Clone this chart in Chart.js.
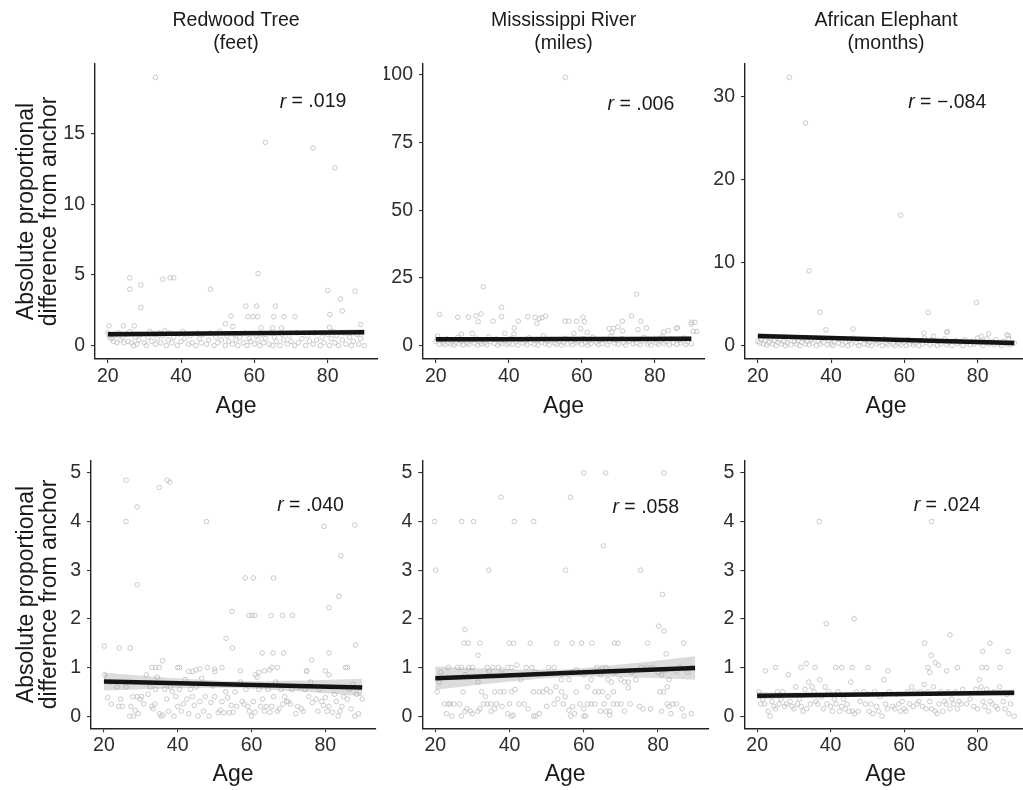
<!DOCTYPE html>
<html><head><meta charset="utf-8">
<script src="https://cdn.jsdelivr.net/npm/chart.js@4.4.1/dist/chart.umd.min.js"></script>
<style>
html,body{margin:0;padding:0;background:#fff;overflow:hidden;width:1023px;height:790px;position:relative}
canvas{position:absolute}
</style></head><body>
<script>
// ---------- text ----------
const panelTitles = [['Redwood Tree','(feet)'], ['Mississippi River','(miles)'], ['African Elephant','(months)']];
const yTitleLines = ['Absolute proportional', 'difference from anchor'];
const xTitle = 'Age';
const rValues = ['.019', '.006', '\u2212.084', '.040', '.058', '.024'];

// ---------- tick labels ----------
const xTicks = [20, 40, 60, 80];
const yTicksRedwoodTop = [0, 5, 10, 15];
const yTicksRiverTop = [0, 25, 50, 75, 100];
const yTicksElephantTop = [0, 10, 20, 30];
const yTicksBottom = [0, 1, 2, 3, 4, 5];

// ---------- regression fits (age, fit, lower, upper) ----------
const fitAges = [20, 37.5, 55, 72.5, 90];
const fitRedwoodTop = [0.80, 0.84, 0.875, 0.91, 0.95];
const loRedwoodTop = [0.58, 0.70, 0.775, 0.77, 0.73];
const hiRedwoodTop = [1.02, 0.98, 0.975, 1.05, 1.17];
const fitRiverTop = [2.3, 2.35, 2.4, 2.45, 2.5];
const loRiverTop = [1.3, 1.7, 1.9, 1.8, 1.5];
const hiRiverTop = [3.3, 3.0, 2.9, 3.1, 3.5];
const fitElephantTop = [1.15, 0.94, 0.725, 0.51, 0.3];
const loElephantTop = [0.8, 0.72, 0.555, 0.29, -0.05];
const hiElephantTop = [1.5, 1.16, 0.895, 0.73, 0.65];
const fitRedwoodBottom = [0.71, 0.68, 0.65, 0.62, 0.59];
const loRedwoodBottom = [0.53, 0.57, 0.58, 0.51, 0.41];
const hiRedwoodBottom = [0.89, 0.79, 0.72, 0.73, 0.77];
const fitRiverBottom = [0.78, 0.83, 0.885, 0.94, 0.99];
const loRiverBottom = [0.54, 0.69, 0.805, 0.80, 0.75];
const hiRiverBottom = [1.02, 0.97, 0.965, 1.08, 1.23];
const fitElephantBottom = [0.42, 0.435, 0.45, 0.465, 0.48];
const loElephantBottom = [0.35, 0.39, 0.415, 0.42, 0.41];
const hiElephantBottom = [0.49, 0.48, 0.485, 0.51, 0.55];

// ---------- observations [age, value] ----------
const redwoodTop = [
[33,19.0],[63,14.4],[76,14.0],[82,12.6],[61,5.1],[26,4.8],[26,4.0],[29,4.3],[35,4.7],[37,4.8],[38,4.8],[29,2.7],[48,4.0],[80,3.9],[83.5,3.3],[87.5,3.85],[84,2.45],[80.6,2.2],[80.5,1.3],[57.7,2.8],[60.6,2.8],[65.7,2.8],[58.3,2.05],[59.6,2.05],[60.9,2.05],[65.3,2.05],[68.1,2.05],[71.1,2.05],[53.6,2.1],[52.1,1.55],[54.1,1.35],[61.8,1.25],[65,1.25],[67.4,1.25],[20.3,1.4],[24.2,1.4],[27.2,1.4],[35.5,1.05],[89,1.5],
[20,0.9],[20.5,0.6],[21,0.5],[21.5,0.3],[22,0.7],[22.5,0.2],[23,0.9],[23.5,0.4],[24,0.6],[24.5,0.2],[25,0.8],[25.5,0.3],[26,1.0],[26.5,0.2],[27,0.0],[27.5,0.6],[28,0.1],[28.5,0.4],[29,0.8],[30,0.2],[30.5,0.0],[31,0.6],[31.5,1.0],[32,0.3],[32.5,0.8],[33,0.1],[33.5,0.5],[34,0.9],[34.5,0.2],[35,0.7],[36,0.0],[36.5,0.4],[37,0.9],[37.5,0.2],[38,0.6],[39,0.0],[39.5,0.8],[40,0.3],[40.5,1.0],[41,0.5],[42,0.1],[42.5,0.7],[43,0.2],[44,0.0],[44.5,0.9],[45,0.5],[45.5,0.2],[46,0.8],[47,0.1],[47.5,0.4],[48,0.9],[49,0.0],[49.5,0.6],[50,0.2],[50.5,1.0],[51,0.4],[52,0.0],[52.5,0.7],[53,0.3],[54,0.1],[54.5,0.8],[55,0.4],[55.5,0.0],[56,0.6],[57,0.2],[57.5,0.9],[58,0.0],[58.5,0.5],[59,0.3],[60,0.1],[60.5,0.7],[61,0.4],[61.5,0.0],[62,0.8],[62.5,0.2],[63,0.5],[64,0.1],[64.5,0.9],[65,0.0],[65.5,0.6],[66,0.3],[67,0.0],[67.5,0.8],[68,0.4],[69,0.1],[69.5,0.7],[70,0.3],[71,0.0],[71.5,0.9],[72,0.2],[73,0.5],[74,0.0],[74.5,0.7],[75,0.3],[76,0.1],[76.5,0.9],[77,0.4],[78,0.0],[78.5,0.6],[79,0.2],[80,0.8],[80.5,0.0],[81,0.5],[81.5,1.0],[82,0.2],[82.5,0.7],[83,0.0],[84,0.4],[84.5,0.9],[85,0.1],[86,0.6],[86.5,0.0],[87,0.3],[88,0.8],[88.5,0.1],[89,0.5],[90,0.0]
];
const riverTop = [
[55.5,99],[33,21.7],[75,19],[21,11.5],[26,10.5],[29,10.5],[31,11],[32.4,11.7],[31.6,8.8],[38,14.1],[38,10.7],[35.7,9.0],[42.6,9.0],[45.2,10.7],[47.2,10.4],[48.4,10],[49.1,10.3],[50.1,10.9],[47.7,8.2],[38.9,4.5],[41.5,6.5],[41.4,4.3],[55.4,9],[56.4,9],[58.6,9],[60.3,10.5],[60.7,8.8],[59.7,6.3],[57.8,4.5],[61.5,4.9],[67.5,6.3],[68.7,6.3],[69.9,6.9],[68.3,5.0],[71.1,9],[73.6,11],[76.2,9],[75.4,5.9],[77.7,6.5],[71.2,5.4],[82.4,5.0],[83.7,5.6],[85.9,6.3],[86.2,6.6],[90,8.6],[91,8.6],[90,7.9],[90.5,5.2],[91.5,5.2],[27,4.3],[30,4.5],
[20,1.5],[20.5,3.5],[21,0.5],[21.5,2.0],[22,1.0],[22.5,0.3],[23,2.5],[23.5,1.2],[24,0.6],[24.5,1.8],[25,0.2],[25.5,1.0],[26,3.0],[26.5,0.7],[27,1.6],[27.5,0.3],[28,2.2],[28.5,1.0],[29,0.4],[30,1.8],[30.5,0.9],[31,2.8],[31.5,0.2],[32,1.3],[32.5,0.6],[33,2.0],[33.5,1.1],[34,0.3],[34.5,3.2],[35,1.5],[36,0.8],[36.5,2.4],[37,0.2],[37.5,1.2],[38,0.7],[39,1.9],[39.5,0.4],[40,1.0],[40.5,2.6],[41,0.5],[42,1.4],[42.5,0.2],[43,2.1],[44,0.9],[44.5,1.6],[45,0.3],[45.5,2.9],[46,1.1],[47,0.5],[47.5,1.8],[48,0.2],[49,1.3],[49.5,3.6],[50,0.7],[50.5,1.5],[51,0.3],[52,2.2],[52.5,1.0],[53,0.5],[54,1.7],[54.5,0.2],[55,1.2],[55.5,2.7],[56,0.6],[57,1.4],[57.5,0.3],[58,2.0],[58.5,0.9],[59,1.6],[60,0.4],[60.5,2.5],[61,1.0],[61.5,0.2],[62,1.8],[62.5,0.7],[63,3.1],[64,1.2],[64.5,0.4],[65,1.9],[65.5,0.8],[66,2.3],[67,0.3],[67.5,1.5],[68,3.4],[69,0.9],[69.5,1.8],[70,0.5],[71,2.6],[71.5,1.1],[72,0.2],[73,1.6],[74,0.7],[74.5,2.0],[75,1.0],[76,0.3],[76.5,1.7],[77,3.0],[78,0.6],[78.5,1.3],[79,0.2],[80,2.2],[80.5,1.0],[81,0.4],[81.5,1.8],[82,3.3],[82.5,0.8],[83,1.5],[84,0.3],[84.5,2.4],[85,1.1],[86,0.5],[86.5,1.9],[87,0.9],[88,2.8],[88.5,0.4],[89,1.4],[90,0.7]
];
const elephantTop = [
[28.6,32.3],[33,26.8],[34,9],[59,15.7],[37,4.0],[38.6,1.9],[46,2.0],[66.5,4.0],[79.7,5.2],[65.3,1.5],[71.5,1.6],[83,1.4],[88,1.3],[71.8,1.7],[88.4,1.2],[81,1.1],[68,1.1],
[20,0.5],[20.5,0.3],[21,0.8],[21.5,0.2],[22,0.6],[22.5,0.1],[23,0.4],[23.5,0.9],[24,0.2],[24.5,0.6],[25,0.0],[25.5,0.4],[26,0.7],[26.5,0.2],[27,0.5],[27.5,0.0],[28,0.3],[28.5,0.8],[29,0.1],[30,0.5],[30.5,0.2],[31,0.6],[31.5,0.0],[32,0.4],[32.5,0.9],[33,0.2],[33.5,0.5],[34,0.1],[34.5,0.7],[35,0.3],[36,0.0],[36.5,0.5],[37,0.2],[37.5,0.8],[38,0.4],[39,0.1],[39.5,0.6],[40,0.2],[40.5,0.0],[41,0.5],[42,0.3],[42.5,0.8],[43,0.1],[44,0.4],[44.5,0.0],[45,0.6],[45.5,0.2],[46,0.9],[47,0.3],[47.5,0.0],[48,0.5],[49,0.2],[49.5,0.7],[50,0.1],[50.5,0.4],[51,0.0],[52,0.6],[52.5,0.2],[53,0.4],[54,0.0],[54.5,0.8],[55,0.3],[55.5,0.1],[56,0.5],[57,0.2],[57.5,0.0],[58,0.6],[58.5,0.3],[59,0.1],[60,0.4],[60.5,0.0],[61,0.7],[61.5,0.2],[62,0.5],[62.5,0.1],[63,0.3],[64,0.0],[64.5,0.6],[65,0.2],[65.5,0.9],[66,0.4],[67,0.1],[67.5,0.7],[68,0.3],[69,0.0],[69.5,0.5],[70,0.2],[71,0.8],[71.5,0.1],[72,0.4],[73,0.0],[74,0.6],[74.5,0.2],[75,0.4],[76,0.0],[76.5,0.7],[77,0.3],[78,0.1],[78.5,0.5],[79,0.2],[80,0.9],[80.5,0.3],[81,0.6],[81.5,0.0],[82,0.4],[82.5,0.8],[83,0.2],[84,0.5],[84.5,0.1],[85,0.7],[86,0.3],[86.5,0.0],[87,0.5],[88,0.2],[88.5,0.8],[89,0.1],[90,0.3]
];
const redwoodBottom = [
[26,4.85],[26,4.0],[29,4.3],[29,2.7],[35,4.7],[37.2,4.85],[37.9,4.81],[47.8,4.0],[79.7,3.9],[88,3.93],[84.2,3.3],[83.7,2.46],[81,2.23],[58.3,2.84],[60.5,2.84],[66,2.84],[59.3,2.07],[60.1,2.07],[60.9,2.07],[65.3,2.07],[68.4,2.07],[71.1,2.07],[54.7,2.15],[53.1,1.6],[54.8,1.4],[62.9,1.3],[65.8,1.3],[68.7,1.3],[76.3,1.15],[81,1.3],[20.1,1.44],[24.2,1.4],[27.1,1.4],[35.9,1.14],[88.2,1.46],[85.5,1.0],[50.1,0.92],[74.9,0.92],
[33,1.0],[34,1.0],[35,1.0],[40,1.0],[40.5,1.0],[43,0.92],[44,0.92],[45,0.95],[46,0.97],[48,1.0],[50,0.97],[52,1.0],[57,0.93],[61,0.85],[62,0.9],[63.5,0.93],[65,0.95],[65.5,1.0],[67,1.0],[75,0.93],[80,0.93],[81,0.85],[86,1.0],
[20.2,0.85],[21,0.38],[21.5,0.7],[22,0.25],[23.5,0.6],[24,0.2],[24.5,0.35],[25,0.2],[26,0.6],[27,0.0],[27.3,0.2],[27.8,0.4],[28,0.0],[28.5,0.12],[29,0.4],[29.3,0.05],[29.8,0.35],[30.2,0.4],[30.8,0.25],[31.5,0.85],[32,0.45],[32.5,0.6],[33,0.2],[33.3,0.15],[33.8,0.25],[34,0.55],[34.5,0.8],[35,0.05],[35.5,0.0],[36,0.02],[36.5,0.55],[37,0.35],[37.5,0.1],[38,0.6],[38.5,0.5],[39,0.0],[39.5,0.4],[40,0.2],[40.5,0.55],[41,0.1],[41.5,0.25],[42,0.75],[42.5,0.35],[43,0.05],[43.5,0.55],[44,0.4],[44.5,0.22],[45,0.6],[45.5,0.0],[46,0.3],[46.5,0.78],[47,0.1],[47.5,0.4],[48.5,0.0],[49,0.28],[49.5,0.62],[50,0.4],[51,0.07],[51.5,0.12],[52,0.3],[52.5,0.07],[53,0.5],[53.5,0.38],[54,0.07],[54.5,0.22],[55,0.08],[55.5,0.5],[56,0.2],[57,0.7],[57.5,0.3],[58,0.25],[58.5,0.55],[59,0.2],[59.5,0.1],[60,0.0],[60.5,0.3],[61,0.08],[61.5,0.8],[62,0.55],[62.5,0.2],[63,0.35],[63.5,0.1],[64,0.2],[64.5,0.55],[65,0.08],[65.5,0.2],[66,0.4],[66.5,0.7],[67,0.1],[67.5,0.15],[68,0.55],[68.5,0.25],[69,0.4],[69.5,0.3],[70,0.3],[70.5,0.25],[71,0.55],[72,0.05],[72.5,0.2],[73,0.6],[73.5,0.15],[74,0.1],[74.5,0.55],[75.5,0.4],[76,0.7],[76.5,0.28],[77.5,0.35],[78,0.1],[78.5,0.55],[79,0.3],[79.5,0.22],[80,0.38],[80.5,0.1],[81,0.2],[81.5,0.6],[82,0.08],[82.5,0.45],[83,0.3],[83.5,0.0],[84,0.1],[84.5,0.2],[85,0.4],[86,0.35],[86.5,0.55],[87,0.15],[87.5,0.65],[88,0.0],[88.5,0.45],[89,0.05],[90,0.35]
];
const riverBottom = [
[19.8,4.0],[20.1,3.0],[27.1,4.0],[30.3,4.0],[37.7,4.5],[41.3,4.0],[46.5,4.0],[34.4,3.0],[60,5.0],[65.9,5.0],[81.6,5.0],[56.4,4.5],[55.1,3.0],[65.3,3.5],[75.3,3.0],[81.2,2.5],[80.2,1.85],[81.6,1.75],[28,1.78],[27.8,1.5],[28.9,1.5],[32,1.5],[39.9,1.5],[41.1,1.5],[45.6,1.5],[52.7,1.5],[56.9,1.5],[59.4,1.5],[62.2,1.5],[68.3,1.5],[69.2,1.5],[77.2,1.5],[86.9,1.5],[31.5,1.25],[82.2,1.28],
[21.5,0.9],[23.5,1.0],[26,1.0],[27,1.0],[28,0.85],[29,1.0],[30,1.0],[31.5,0.7],[34,1.0],[34.5,0.92],[35.5,1.0],[37,1.0],[38,0.95],[39.5,1.0],[40.5,1.0],[42,1.05],[43,0.75],[44.5,1.0],[46,1.0],[47,0.9],[50.5,1.0],[52,1.0],[54,0.75],[56,0.75],[57,0.9],[58,0.95],[60,0.85],[62,0.75],[63.5,1.0],[64.5,0.85],[65,1.0],[66,1.0],[66.5,0.75],[67.5,0.7],[68.5,0.9],[70,0.75],[72,0.7],[73,0.9],[74,0.75],[75.5,1.0],[77,1.0],[78.5,1.0],[80,0.9],[81,0.85],[82,0.95],[83,0.75],[85,0.92],[86,1.0],[88,0.9],[89,1.0],
[20.5,0.5],[27.5,0.5],[32.5,0.5],[33.5,0.4],[36,0.5],[37.5,0.5],[38.5,0.5],[40.5,0.5],[41.5,0.55],[46.5,0.5],[48,0.5],[49,0.5],[50,0.55],[51,0.5],[52.5,0.6],[54,0.5],[55,0.4],[58,0.5],[61,0.6],[63,0.5],[64,0.5],[65,0.5],[66.5,0.4],[68,0.5],[71,0.7],[72,0.58],[80.5,0.5],[81.5,0.5],[82.5,0.6],
[23.5,0.25],[24,0.25],[25,0.25],[26.5,0.25],[28.5,0.15],[29.5,0.1],[31.5,0.1],[32,0.15],[33,0.25],[34,0.25],[35,0.25],[36.5,0.25],[38,0.2],[40,0.25],[42.5,0.25],[44,0.25],[45,0.15],[47,0.0],[48,0.05],[50,0.2],[52,0.25],[53,0.35],[54.5,0.25],[56,0.12],[57,0.2],[59,0.25],[60,0.15],[60.5,0.0],[61,0.25],[62,0.25],[63,0.25],[64.5,0.1],[65.5,0.25],[67,0.1],[68,0.25],[69,0.25],[70,0.25],[71,0.1],[72.5,0.25],[75,0.2],[78,0.15],[81,0.1],[82.5,0.25],[83.5,0.05],[84,0.25],[85,0.25],[86.5,0.15],[89,0.05],
[21,0.7],[22.5,0.25],[23,0.05],[24.5,0.0],[27,0.0],[28,0.1],[30,0.05],[35,0.1],[36,0.15],[39.5,0.05],[40.5,0.0],[41,0.02],[46.5,0.0],[56.5,0.0],[57.5,0.05],[60,0.0],[66,0.1],[67,0.02],[76,0.15],[83,0.2],[87,0.0]
];
const elephantBottom = [
[36.9,4.0],[67.5,4.0],[38.8,1.9],[46.4,2.0],[65.6,1.5],[72.5,1.67],[83.4,1.5],[88.3,1.33],[81.4,1.33],[67.4,1.25],
[22.2,0.93],[25,1.0],[31.9,1.0],[33.4,1.08],[35.8,1.0],[41.4,1.0],[43,1.0],[45.9,1.0],[50.2,1.0],[55.6,0.93],[69.4,1.05],[71.6,0.93],[74.5,1.0],[81.2,1.0],[82.5,1.0],[86.1,1.0],[68.5,1.1],[66.5,1.0],[67,0.9],
[20.5,0.5],[21,0.25],[21.5,0.35],[22,0.25],[23,0.1],[23.5,0.0],[24,0.3],[24.5,0.2],[25,0.15],[25.5,0.5],[26,0.25],[26.5,0.35],[27,0.5],[27.5,0.2],[28,0.25],[28.5,0.85],[29,0.3],[29.5,0.2],[30,0.15],[30.5,0.6],[31,0.25],[31.5,0.35],[32,0.2],[32.5,0.1],[33,0.55],[33.5,0.15],[34,0.7],[34.5,0.25],[35,0.6],[35.5,0.5],[36,0.3],[36.5,0.25],[37,0.75],[37.5,0.4],[38,0.15],[38.5,0.6],[39,0.25],[39.5,0.5],[40,0.2],[40.5,0.1],[41,0.35],[41.5,0.25],[42,0.5],[42.5,0.1],[43,0.2],[43.5,0.35],[44,0.15],[44.5,0.25],[45,0.1],[45.5,0.7],[46,0.1],[46.5,0.05],[47,0.5],[47.5,0.1],[48,0.3],[49,0.5],[49.5,0.25],[50,0.45],[50.5,0.1],[51,0.25],[51.5,0.05],[52,0.5],[52.5,0.2],[53,0.1],[53.5,0.4],[54,0.0],[54.5,0.75],[55,0.25],[55.5,0.15],[56,0.5],[57,0.2],[57.5,0.15],[58,0.45],[58.5,0.25],[59,0.1],[59.5,0.3],[60,0.15],[60.5,0.1],[61,0.5],[61.5,0.25],[62,0.6],[62.5,0.2],[63,0.5],[63.5,0.25],[64,0.3],[64.5,0.5],[65,0.2],[65.5,0.65],[66,0.15],[66.5,0.5],[67,0.3],[67.5,0.15],[68,0.6],[68.5,0.1],[69,0.05],[69.5,0.25],[70,0.5],[70.5,0.1],[71,0.3],[71.5,0.25],[72,0.5],[72.5,0.15],[73,0.35],[73.5,0.25],[74,0.5],[74.5,0.15],[75,0.3],[75.5,0.25],[76,0.55],[77,0.25],[78,0.35],[79,0.2],[79.5,0.55],[80,0.15],[80.5,0.75],[81,0.6],[81.5,0.3],[82,0.2],[82.5,0.55],[83,0.1],[83.5,0.3],[84,0.25],[84.5,0.5],[85,0.2],[85.5,0.15],[86,0.6],[87,0.3],[87.5,0.15],[88,0.45],[88.5,0.05],[89,0.25],[90,0.0]
];

// ---------- layout / style ----------
const FONT = '"Liberation Sans", Arial, Helvetica, sans-serif';
const INK = '#1a1a1a';
const TICK_INK = '#2e2e2e';

const panels = [
  {left:0,   top:0,   w:382, h:430, yw:95, xh:71,   padTop:0,    title:panelTitles[0], yTitle:true,  pts:redwoodTop,    fit:fitRedwoodTop,    lo:loRedwoodTop,    hi:hiRedwoodTop,    yMin:-0.95, yMax:19.95, yTicks:yTicksRedwoodTop,  r:rValues[0], rx:76,   ry:17.25, xtb:9.2},
  {left:384, top:0,   w:325, h:430, yw:39, xh:71,   padTop:0,    title:panelTitles[1], yTitle:false, pts:riverTop,      fit:fitRiverTop,      lo:loRiverTop,      hi:hiRiverTop,      yMin:-4.95, yMax:103.95, yTicks:yTicksRiverTop,   r:rValues[1], rx:76.2, ry:89,    xtb:9.2},
  {left:706, top:0,   w:326, h:430, yw:39, xh:71,   padTop:0,    title:panelTitles[2], yTitle:false, pts:elephantTop,   fit:fitElephantTop,   lo:loElephantTop,   hi:hiElephantTop,   yMin:-1.615, yMax:33.915, yTicks:yTicksElephantTop, r:rValues[2], rx:71.7, ry:29.3, xtb:9.2},
  {left:0,   top:430, w:380, h:360, yw:91, xh:61.7, padTop:30.7, title:null,           yTitle:true,  pts:redwoodBottom, fit:fitRedwoodBottom, lo:loRedwoodBottom, hi:hiRedwoodBottom, yMin:-0.25, yMax:5.25, yTicks:yTicksBottom,       r:rValues[3], rx:76,   ry:4.32, xtb:1.2},
  {left:384, top:430, w:329, h:360, yw:38.3, xh:61.7, padTop:30.7, title:null,         yTitle:false, pts:riverBottom,   fit:fitRiverBottom,   lo:loRiverBottom,   hi:hiRiverBottom,   yMin:-0.25, yMax:5.25, yTicks:yTicksBottom,       r:rValues[4], rx:76.7, ry:4.29, xtb:1.2},
  {left:706, top:430, w:326, h:360, yw:38.3, xh:61.7, padTop:30.7, title:null,         yTitle:false, pts:elephantBottom,fit:fitElephantBottom,lo:loElephantBottom,hi:hiElephantBottom,yMin:-0.25, yMax:5.25, yTicks:yTicksBottom,       r:rValues[5], rx:71.7, ry:4.32, xtb:1.2}
];

const rLabelPlugin = {
  id: 'rLabel',
  afterDatasetsDraw(chart, args, opts) {
    if (!opts || opts.text === undefined) return;
    const {ctx} = chart;
    const px = chart.scales.x.getPixelForValue(opts.x);
    const py = chart.scales.y.getPixelForValue(opts.y);
    ctx.save();
    const it = 'italic 19.5px ' + FONT, nm = '19.5px ' + FONT;
    ctx.font = it; const w1 = ctx.measureText('r').width;
    const rest = ' = ' + opts.text;
    ctx.font = nm; const w2 = ctx.measureText(rest).width;
    const sx = px - (w1 + w2) / 2;
    ctx.fillStyle = INK; ctx.textBaseline = 'middle'; ctx.textAlign = 'left';
    ctx.font = it; ctx.fillText('r', sx, py);
    ctx.font = nm; ctx.fillText(rest, sx + w1, py);
    ctx.restore();
  }
};

function xy(ages, vals) { return ages.map((a, i) => ({x: a, y: vals[i]})); }

panels.forEach(P => {
  const cv = document.createElement('canvas');
  cv.width = P.w; cv.height = P.h;
  cv.style.left = P.left + 'px'; cv.style.top = P.top + 'px';
  cv.style.width = P.w + 'px'; cv.style.height = P.h + 'px';
  document.body.appendChild(cv);

  new Chart(cv.getContext('2d'), {
    type: 'scatter',
    data: {
      datasets: [
        {type:'line', data: xy(fitAges, P.fit), borderColor:'#141414', borderWidth:4.5, pointRadius:0, fill:false, tension:0},
        {type:'line', data: xy(fitAges, P.lo), borderColor:'rgba(0,0,0,0)', borderWidth:0, pointRadius:0, fill:false, tension:0.3},
        {type:'line', data: xy(fitAges, P.hi), borderColor:'rgba(0,0,0,0)', borderWidth:0, pointRadius:0, fill:'-1', backgroundColor:'rgba(150,150,150,0.33)', tension:0.3},
        {type:'scatter', data: P.pts.map(p => ({x:p[0], y:p[1]})), pointRadius:2.3, borderWidth:0.9, borderColor:'#c4c4c4', backgroundColor:'rgba(255,255,255,0)'}
      ]
    },
    options: {
      responsive: false, animation: false, devicePixelRatio: 1,
      layout: { padding: {left:0, right:0, top:P.padTop, bottom:0} },
      plugins: {
        legend: {display:false}, tooltip: {enabled:false},
        title: P.title ? {display:true, text:P.title, fullSize:false, color:INK,
          font:{family:FONT, size:19.5, weight:'normal', lineHeight:1.2}, padding:{top:8.6, bottom:8.6}} : {display:false},
        rLabel: {x:P.rx, y:P.ry, text:P.r}
      },
      scales: {
        x: {
          type:'linear', min:16.5, max:93.5,
          afterBuildTicks: s => { s.ticks = xTicks.map(v => ({value:v})); },
          afterFit: s => { s.height = P.xh; },
          grid: {drawOnChartArea:false, drawTicks:true, tickLength:4, color:'#333', lineWidth:1.1},
          border: {display:true, color:'#222', width:1.4},
          ticks: {padding:2, color:TICK_INK, autoSkip:false, maxRotation:0, font:{family:FONT, size:19.5, lineHeight:1.2}, callback: v => String(v)},
          title: {display:true, text:xTitle, color:INK, font:{family:FONT, size:23, lineHeight:1.2}, padding:{top:0, bottom:P.xtb}}
        },
        y: {
          type:'linear', min:P.yMin, max:P.yMax,
          afterBuildTicks: s => { s.ticks = P.yTicks.map(v => ({value:v})); },
          afterFit: s => { s.width = P.yw; },
          grid: {drawOnChartArea:false, drawTicks:true, tickLength:4, color:'#333', lineWidth:1.1},
          border: {display:true, color:'#222', width:1.4},
          ticks: {padding:6, color:TICK_INK, autoSkip:false, font:{family:FONT, size:19.5, lineHeight:1.2}, callback: v => String(v)},
          title: {display:P.yTitle, text:yTitleLines, color:INK, font:{family:FONT, size:23, lineHeight:1.0}, padding:{top:15.2, bottom:0}}
        }
      }
    },
    plugins: [rLabelPlugin]
  });
});
</script>
</body></html>
